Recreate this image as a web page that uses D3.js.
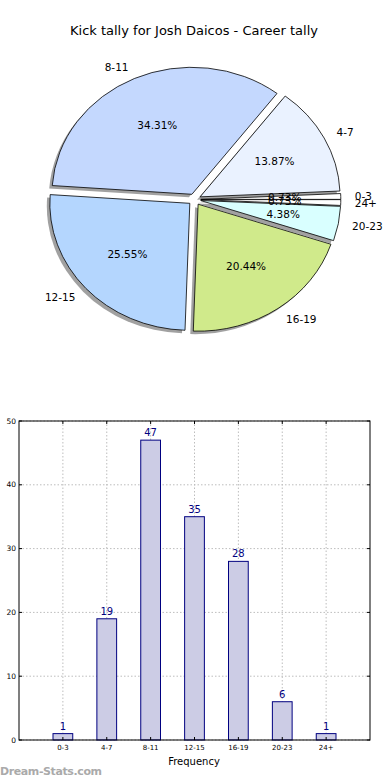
<!DOCTYPE html>
<html><head><meta charset="utf-8">
<script src="https://cdn.jsdelivr.net/npm/d3@7/dist/d3.min.js"></script>
<style>body{margin:0;background:#fff}svg{display:block}text{font-family:"DejaVu Sans",sans-serif}</style>
</head><body>
<svg id="c" width="390" height="780"></svg>
<script>
const categories = ["0-3","4-7","8-11","12-15","16-19","20-23","24+"];
const counts = [1,19,47,35,28,6,1];
const sliceColors = ["#ffffff","#eaf2ff","#c4d8fe","#b4d6fe","#d0ea8b","#d9ffff","#ffffff"];
const yTicks = [0,10,20,30,40,50];
const title = "Kick tally for Josh Daicos - Career tally";

const svg = d3.select("#c");
svg.append("rect").attr("width",390).attr("height",780).attr("fill","#fff");
svg.append("text").attr("x",194).attr("y",30).attr("dy","0.35em").attr("text-anchor","middle")
  .attr("font-size",13).text(title);

// ---- Pie ----
const cx=194.5, cy=199.5, Rx=140, Ry=127, ex=0.045;
const total = d3.sum(counts);
const pie = d3.pie().sort(null).startAngle(Math.PI/2).endAngle(Math.PI/2-2*Math.PI);
const arcs = pie(counts);
const arc = d3.arc().innerRadius(0).outerRadius(Rx);
function theta(a){ return Math.PI/2 - (a.startAngle+a.endAngle)/2; } // matplotlib angle
function off(a){ const t=theta(a); return [ex*Rx*Math.cos(t), -ex*Ry*Math.sin(t)]; }

const pg = svg.append("g");
// shadows
arcs.forEach((a,i)=>{
  const [dx,dy]=off(a);
  pg.append("path").attr("d",arc(a))
    .attr("transform",`translate(${cx+dx-3},${cy+dy+3}) scale(1,${Ry/Rx})`)
    .attr("fill","#444").attr("fill-opacity",0.5);
});
arcs.forEach((a,i)=>{
  const [dx,dy]=off(a);
  pg.append("path").attr("d",arc(a))
    .attr("transform",`translate(${cx+dx},${cy+dy}) scale(1,${Ry/Rx})`)
    .attr("fill",sliceColors[i]).attr("stroke","#000").attr("stroke-width",0.8)
    .attr("vector-effect","non-scaling-stroke");
});
arcs.forEach((a,i)=>{
  const [dx,dy]=off(a); const t=theta(a);
  const x0=cx+dx, y0=cy+dy;
  const lx = x0 + 1.1*Rx*Math.cos(t), ly = y0 - 1.1*Ry*Math.sin(t);
  pg.append("text").attr("x",lx).attr("y",ly).attr("dy","0.35em")
    .attr("text-anchor", Math.cos(t)>0?"start":"end").attr("font-size",10.5).text(categories[i]);
  const px = x0 + 0.6*Rx*Math.cos(t), py = y0 - 0.6*Ry*Math.sin(t);
  pg.append("text").attr("x",px).attr("y",py).attr("dy","0.35em")
    .attr("text-anchor","middle").attr("font-size",10.5)
    .text((counts[i]/total*100).toFixed(2)+"%");
});

// ---- Bar chart ----
const L=19,R=370,T=421,B=740;
const x = d3.scaleLinear().domain([-1,7]).range([L,R]);
const y = d3.scaleLinear().domain([0,50]).range([B,T]);
const bw = x(0.45)-x(0);
const bg = svg.append("g");
// grid
yTicks.forEach(v=>{
  bg.append("line").attr("x1",L).attr("x2",R).attr("y1",y(v)).attr("y2",y(v))
    .attr("stroke","#bdbdbd").attr("stroke-dasharray","1.5,2");
});
categories.forEach((c,i)=>{
  bg.append("line").attr("x1",x(i)).attr("x2",x(i)).attr("y1",T).attr("y2",B)
    .attr("stroke","#bdbdbd").attr("stroke-dasharray","1.5,2");
});
// bars
counts.forEach((v,i)=>{
  bg.append("rect").attr("x",x(i)-bw/2).attr("y",y(v)).attr("width",bw).attr("height",y(0)-y(v))
    .attr("fill","#cccce5").attr("stroke","#000080").attr("stroke-width",1);
  bg.append("text").attr("x",x(i)).attr("y",y(v)-4).attr("text-anchor","middle")
    .attr("font-size",10).attr("fill","#000080").text(v);
});
// frame
bg.append("rect").attr("x",L).attr("y",T).attr("width",R-L).attr("height",B-T)
  .attr("fill","none").attr("stroke","#000").attr("stroke-width",1);
// ticks
yTicks.forEach(v=>{
  bg.append("line").attr("x1",L).attr("x2",L+3).attr("y1",y(v)).attr("y2",y(v)).attr("stroke","#000");
  bg.append("line").attr("x1",R-3).attr("x2",R).attr("y1",y(v)).attr("y2",y(v)).attr("stroke","#000");
  bg.append("text").attr("x",L-3).attr("y",y(v)).attr("dy","0.35em").attr("text-anchor","end")
    .attr("font-size",7.5).text(v);
});
categories.forEach((c,i)=>{
  bg.append("line").attr("x1",x(i)).attr("x2",x(i)).attr("y1",B).attr("y2",B-3).attr("stroke","#000");
  bg.append("line").attr("x1",x(i)).attr("x2",x(i)).attr("y1",T).attr("y2",T+3).attr("stroke","#000");
  bg.append("text").attr("x",x(i)).attr("y",748).attr("dy","0.35em").attr("text-anchor","middle")
    .attr("font-size",7).text(c);
});
svg.append("text").attr("x",194).attr("y",761).attr("dy","0.35em").attr("text-anchor","middle")
  .attr("font-size",10).text("Frequency");
svg.append("text").attr("x",0).attr("y",775).attr("font-size",11).attr("font-weight","bold")
  .attr("fill","#aaaaaa").attr("textLength",102).text("Dream-Stats.com");
</script>
</body></html>
